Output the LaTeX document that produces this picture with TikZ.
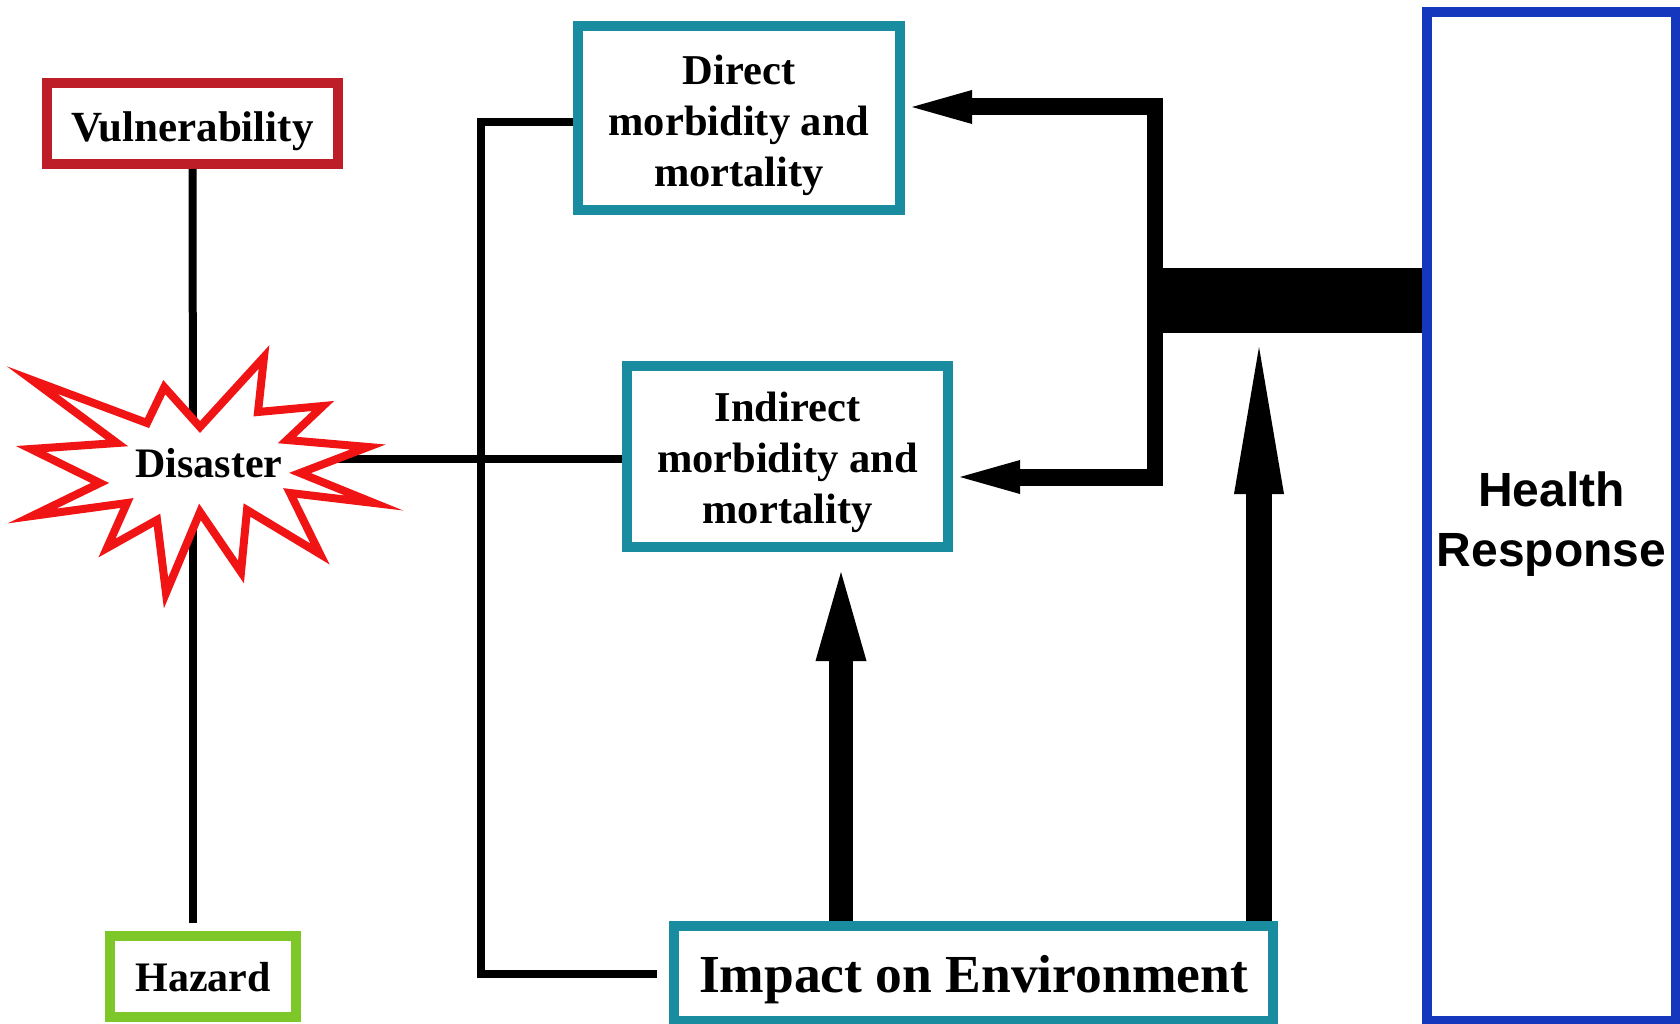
\documentclass[tikz,border=0pt]{standalone}
\usepackage{fontspec}
\setmainfont{Liberation Serif}
\newfontfamily\hrfont{Liberation Sans}
\usetikzlibrary{arrows.meta}
\definecolor{vulred}{RGB}{190,30,40}
\definecolor{hazgreen}{RGB}{125,200,40}
\definecolor{tealc}{RGB}{25,140,160}
\definecolor{hrblue}{RGB}{20,55,190}
\definecolor{starred}{RGB}{240,20,20}
\tikzset{
  box/.style={draw, line width=10pt, fill=white, inner sep=0pt},
  lbl/.style={inner sep=0pt, align=center, font=\bfseries\fontsize{42.5}{51}\selectfont},
  thinline/.style={line width=8pt, line cap=butt},
  harrow/.style={line width=17pt, -{Triangle[length=60pt,width=34pt,line width=0pt]}},
  upmid/.style={line width=24pt, -{Triangle[length=89pt,width=51pt,line width=0pt]}},
  uptall/.style={line width=26pt, -{Triangle[length=147pt,width=50pt,line width=0pt]}},
}
\begin{document}
\begin{tikzpicture}[x=1pt,y=-1pt]
\useasboundingbox (0,0) rectangle (1680,1024);
% boxes
\node[box, draw=vulred, minimum width=291pt, minimum height=81pt] (vul) at (192.5,123.5) {};
\node[lbl, font=\bfseries\fontsize{43}{51}\selectfont] (vultxt) at ([yshift=-8pt]vul.center) {Vulnerability};
\node[box, draw=hazgreen, minimum width=186pt, minimum height=81pt] (haz) at (203,976.5) {};
\node[lbl, font=\bfseries\fontsize{42}{51}\selectfont] (haztxt) at ([yshift=-1pt]haz.center) {Hazard};
\node[box, draw=tealc, minimum width=322pt, minimum height=184pt] (dir) at (739,118) {};
\node[lbl] (dirtxt) at ([yshift=-7pt]dir.center) {Direct\\morbidity and\\mortality};
\node[box, draw=tealc, minimum width=321pt, minimum height=181pt] (ind) at (787.5,456.5) {};
\node[lbl] (indtxt) at ([yshift=-5.5pt]ind.center) {Indirect\\morbidity and\\mortality};
\node[box, draw=tealc, minimum width=599pt, minimum height=95pt] (imp) at (973.5,973.5) {};
\node[lbl, font=\bfseries\fontsize{53.5}{60}\selectfont] (imptxt) at ([yshift=-6pt]imp.center) {Impact on Environment};
\node[box, draw=hrblue, minimum width=249pt, minimum height=1009pt] (hr) at (1551.5,516.5) {};
\node[lbl, font=\hrfont\bfseries\fontsize{48}{60}\selectfont] (hrtxt) at ([yshift=-8pt]hr.center) {Health\\Response};
% disaster centre
\coordinate (dis) at (193,459);
% thin connectors
\draw[thinline] (vul.south) -- (dis);
\draw[thinline, shorten >=8pt] (dis) -- (dis |- haz.north);
\draw[thinline] (dis) -- (dis -| ind.west);
\coordinate (lb) at (481,0);
\draw[thinline] ([yshift=-4pt]dir.west) -| (lb |- imp.west) -- ([xshift=-12pt]imp.west);
% starburst
\draw[starred, fill=white, line width=8pt, line join=miter, miter limit=12]
 (32,380) -- (147,423) -- (164.3,387.2) -- (200,427) -- (264,357) -- (258,412) --
 (323,406) -- (287,440) -- (368,447) -- (300,473) -- (374,503) -- (290,493) --
 (320,554) -- (247,510) -- (241,572) -- (200,512) -- (166,593) -- (157,520) --
 (107,548) -- (127,503) -- (32,516) -- (100,483) -- (31,449) -- (117,443) -- cycle;
\node[font=\bfseries\fontsize{42}{51}\selectfont, inner sep=0pt] (distext) at (209,463) {Disaster};
% right bracket
\coordinate (rtop) at (1155,107);
\coordinate (rbot) at (1155,477);
\draw[line width=16pt] (rtop) -- (rbot);
\draw[harrow, shorten >=7pt] ([xshift=8pt]rtop) -- (rtop -| dir.east);
\draw[harrow, shorten >=7pt] ([xshift=8pt]rbot) -- (rbot -| ind.east);
\coordinate (barl) at (1148,300);
\draw[line width=65pt] (barl) -- (barl -| hr.west);
% up arrows
\coordinate (m1) at (841,0);
\coordinate (m2) at (1259,0);
\coordinate (t2) at (1259,347);
\draw[upmid, shorten >=20pt] (imp.north -| m1) -- (m1 |- ind.south);
\draw[uptall] (imp.north -| m2) -- (t2);
\end{tikzpicture}
\end{document}
